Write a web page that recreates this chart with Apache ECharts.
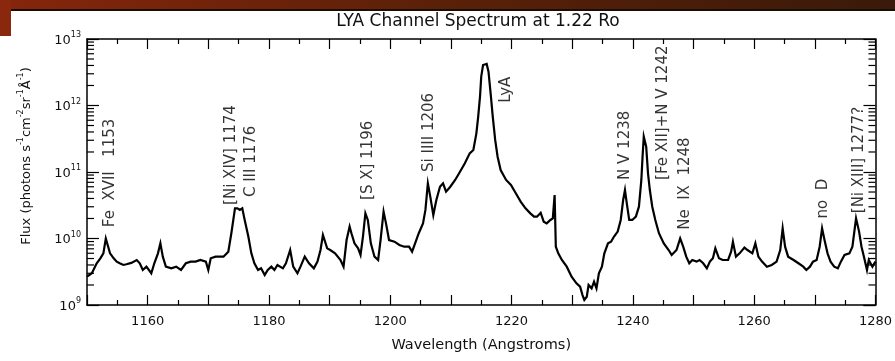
<!DOCTYPE html>
<html><head><meta charset="utf-8">
<script src="https://cdn.jsdelivr.net/npm/echarts@6/dist/echarts.min.js"></script>
<style>html,body{margin:0;padding:0;background:#fff}#c{width:895px;height:361px}</style>
</head><body><div id="c"></div>
<script>
// Wavelength (Angstroms) of each sample
const wavelength = [
1150.0,1150.8,1151.6,1152.2,1152.7,1153.1,1153.4,1153.8,1154.4,1154.9,1155.4,1156.0,1156.5,1157.3,1158.2,1158.7,1159.2,1159.8,
1160.6,1161.1,1161.7,1162.1,1162.5,1163.0,1163.9,1164.7,1165.5,1166.3,1167.1,1167.9,1168.7,1169.6,1170.0,1170.4,1171.2,
1172.5,1173.3,1173.8,1174.4,1174.8,1175.2,1175.6,1176.0,1176.6,1177.1,1177.6,1178.2,1178.7,1179.3,1179.8,
1180.4,1180.9,1181.4,1182.3,1182.8,1183.5,1184.0,1184.7,1185.2,1185.9,1186.6,1187.4,1188.0,1188.5,1188.9,1189.6,
1190.1,1190.9,1191.8,1192.3,1192.8,1193.3,1193.6,1194.1,1194.7,1195.1,1195.5,1195.9,1196.3,1196.8,1197.4,1198.0,1198.4,1198.9,1199.3,1199.8,
1200.7,1201.5,1202.3,1203.1,1203.6,1204.2,1204.7,1205.4,1205.8,1206.2,1206.6,1207.1,1207.6,1208.2,1208.7,1209.2,1209.9,
1210.7,1211.5,1212.3,1213.1,1213.7,1214.2,1214.5,1214.8,1215.0,1215.3,1215.5,1215.9,1216.2,1216.6,1216.9,1217.3,1217.7,1218.2,1219.1,1219.9,
1220.7,1221.5,1222.3,1223.1,1223.7,1224.2,1224.8,1225.3,1225.8,1226.4,1226.8,1227.1,1227.3,1227.7,1228.3,1229.1,1229.9,
1230.7,1231.3,1231.7,1232.0,1232.4,1232.7,1233.2,1233.6,1234.0,1234.4,1234.9,1235.3,1235.9,1236.4,1236.9,1237.5,1238.0,1238.4,1238.7,1239.0,1239.4,1239.9,
1240.5,1241.0,1241.4,1241.6,1241.8,1242.2,1242.5,1242.8,1243.2,1243.7,1244.3,1245.1,1245.9,1246.4,1247.2,1247.8,1248.3,1248.8,1249.3,1249.8,
1250.5,1251.0,1251.6,1252.2,1252.7,1253.2,1253.6,1254.2,1254.8,1255.7,1256.2,1256.5,1257.0,1257.6,1258.4,1258.9,1259.7,
1260.2,1260.7,1261.3,1262.1,1262.9,1263.7,1264.3,1264.7,1265.1,1265.6,1266.5,1267.3,1268.1,1268.6,1269.2,1269.7,
1270.3,1270.8,1271.2,1271.6,1272.1,1272.6,1273.2,1273.8,1274.3,1274.9,1275.7,1276.2,1276.8,1277.3,1277.7,1278.1,1278.6,1278.9,1279.5,1280.0
];
// Flux (photons s^-1 cm^-2 sr^-1 A^-1)
const flux = [
2.67e9,3.0e9,4.24e9,5.04e9,5.98e9,1.0e10,9.8e9,5.98e9,5.04e9,4.49e9,4.24e9,4.0e9,4.1e9,4.3e9,4.75e9,4.24e9,3.36e9,3.77e9,
3.0e9,4.24e9,5.98e9,8.45e9,5.33e9,3.77e9,3.56e9,3.77e9,3.36e9,4.24e9,4.49e9,4.49e9,4.75e9,4.49e9,3.36e9,5.04e9,5.33e9,
5.33e9,6.34e9,1.2e10,2.84e10,2.84e10,2.69e10,2.84e10,1.9e10,1.07e10,5.98e9,4.24e9,3.36e9,3.56e9,2.82e9,3.36e9,
3.77e9,3.36e9,4.0e9,3.56e9,4.24e9,6.71e9,3.77e9,3.0e9,3.77e9,5.33e9,4.24e9,3.56e9,4.49e9,6.71e9,1.13e10,7.11e9,
6.71e9,5.98e9,4.75e9,3.77e9,9.48e9,1.51e10,1.2e10,8.45e9,7.11e9,5.65e9,1.07e10,2.39e10,1.9e10,8.45e9,5.33e9,4.75e9,9.48e9,2.53e10,1.69e10,9.48e9,
8.95e9,7.98e9,7.53e9,7.53e9,6.34e9,8.95e9,1.2e10,1.69e10,2.69e10,6.76e10,4.26e10,2.25e10,3.79e10,6.01e10,6.76e10,5.06e10,6.01e10,
7.59e10,1.01e11,1.35e11,1.91e11,2.14e11,3.81e11,6.8e11,1.36e12,2.72e12,4.06e12,4.21e12,4.21e12,3.23e12,1.36e12,6.79e11,3.03e11,1.70e11,1.07e11,7.59e10,6.37e10,
4.78e10,3.58e10,2.84e10,2.39e10,2.13e10,2.13e10,2.44e10,1.79e10,1.69e10,1.9e10,2.01e10,4.51e10,7.53e9,5.98e9,4.75e9,3.77e9,2.67e9,
2.12e9,1.89e9,1.41e9,1.19e9,1.33e9,2.0e9,1.78e9,2.24e9,1.78e9,3.0e9,3.77e9,5.98e9,8.45e9,8.95e9,1.07e10,1.27e10,1.9e10,3.79e10,5.36e10,3.38e10,1.9e10,1.9e10,
2.13e10,3.01e10,7.59e10,1.70e11,3.40e11,2.40e11,9.55e10,5.36e10,3.01e10,1.9e10,1.2e10,8.45e9,6.71e9,5.65e9,6.71e9,1.0e10,7.53e9,5.33e9,4.24e9,4.75e9,
4.49e9,4.75e9,4.24e9,3.56e9,4.49e9,5.04e9,7.11e9,5.04e9,4.75e9,4.75e9,6.34e9,8.95e9,5.33e9,5.98e9,7.3e9,6.71e9,5.98e9,
8.45e9,5.33e9,4.49e9,3.77e9,4.0e9,4.49e9,6.71e9,1.42e10,7.53e9,5.33e9,4.75e9,4.24e9,3.77e9,3.36e9,3.77e9,4.49e9,
4.75e9,7.53e9,1.42e10,9.48e9,5.98e9,4.49e9,3.77e9,3.56e9,4.49e9,5.65e9,5.98e9,7.53e9,2.01e10,1.27e10,7.53e9,5.33e9,3.36e9,4.75e9,3.77e9,4.49e9
];
// X tick labels and Y decade exponents
const xTickLabels = [1160,1180,1200,1220,1240,1260,1280];
const yDecadeExponents = [9,10,11,12,13];
// Emission line annotations (text, anchor wavelength, anchor flux)
const lineNames = ['Fe  XVII   1153','[Ni XIV] 1174','C III 1176','[S X] 1196','Si IIII 1206','LyA','N V 1238','[Fe XII]+N V 1242','Ne  IX  1248','no  D','[Ni XIII] 1277?'];
const lineWavelength = [1153.8,1173.8,1177.1,1196.3,1206.4,1219.1,1238.7,1245.0,1248.6,1271.4,1277.3];
const lineFlux = [1.48e10,3.2e10,4.2e10,3.8e10,1.0e11,1.1e12,7.6e10,7.6e10,1.35e10,2.0e10,2.4e10];

const X_MIN = 1150, X_MAX = 1280;
const Y_MIN = Math.pow(10, yDecadeExponents[0]);
const Y_MAX = Math.pow(10, yDecadeExponents[yDecadeExponents.length-1]);

// minor tick values for log axis (2..9 per decade)
const minorTicks = [];
for (let i = 0; i < yDecadeExponents.length - 1; i++) {
  for (let m = 2; m <= 9; m++) minorTicks.push(m * Math.pow(10, yDecadeExponents[i]));
}

const FONT = '"DejaVu Sans", "Liberation Sans", Arial, sans-serif';
const chart = echarts.init(document.getElementById('c'), null, {renderer: 'canvas'});

const xAxisCommon = {
  type: 'value', min: X_MIN, max: X_MAX, interval: 10,
  axisLine: {show: true, onZero: false, lineStyle: {color: '#000', width: 1.5}},
  axisTick: {show: true, inside: true, length: 10, lineStyle: {color: '#000', width: 1.2}},
  minorTick: {show: true, splitNumber: 2, length: 5, lineStyle: {color: '#000', width: 1.2}},
  splitLine: {show: false}, minorSplitLine: {show: false}
};

chart.setOption({
  animation: false,
  backgroundColor: '#fff',
  title: {
    text: 'LYA Channel Spectrum at 1.22 Ro', left: 473, top: 8, textAlign: 'center',
    textStyle: {fontFamily: FONT, fontSize: 17, fontWeight: 'normal', color: '#111'}
  },
  grid: {left: 87, right: 10, top: 39, bottom: 56, containLabel: false},
  xAxis: [
    Object.assign({}, xAxisCommon, {
      position: 'bottom',
      name: 'Wavelength (Angstroms)', nameLocation: 'middle', nameGap: 33,
      nameTextStyle: {fontFamily: FONT, fontSize: 14.5, color: '#111'},
      axisLabel: {
        color: '#111', fontFamily: FONT, fontSize: 13, margin: 10,
        formatter: v => (xTickLabels.indexOf(v) >= 0 ? String(v) : '')
      }
    }),
    Object.assign({}, xAxisCommon, {position: 'top', axisLabel: {show: false}})
  ],
  yAxis: [
    {
      type: 'log', min: Y_MIN, max: Y_MAX, logBase: 10, position: 'left',
      axisLine: {show: true, onZero: false, lineStyle: {color: '#000', width: 1.5}},
      axisTick: {show: true, inside: true, length: 12, lineStyle: {color: '#000', width: 1.2}},
      splitLine: {show: false},
      axisLabel: {
        margin: 6, color: '#111', fontFamily: FONT,
        formatter: v => '{b|10}{e|' + Math.round(Math.log10(v)) + '}',
        rich: {
          b: {fontSize: 13, fontFamily: FONT, color: '#111', lineHeight: 16, verticalAlign: 'bottom'},
          e: {fontSize: 8, fontFamily: FONT, color: '#111', lineHeight: 16, verticalAlign: 'top'}
        }
      }
    },
    {
      type: 'log', min: Y_MIN, max: Y_MAX, logBase: 10, position: 'right',
      axisLine: {show: true, onZero: false, lineStyle: {color: '#000', width: 1.5}},
      axisTick: {show: true, inside: true, length: 12, lineStyle: {color: '#000', width: 1.2}},
      splitLine: {show: false}, axisLabel: {show: false}
    }
  ],
  graphic: [
    {type: 'rect', shape: {x: 0, y: 0, width: 895, height: 9}, silent: true,
     style: {fill: new echarts.graphic.LinearGradient(0, 0, 1, 0, [{offset: 0, color: '#86260c'}, {offset: 0.5, color: '#5a2008'}, {offset: 1, color: '#3a1a0a'}])}},
    {type: 'rect', shape: {x: 11, y: 9, width: 884, height: 2}, silent: true, style: {fill: '#1a0d05'}},
    {type: 'rect', shape: {x: 0, y: 0, width: 11, height: 36}, silent: true, style: {fill: '#8a280d'}},
    {type: 'text', x: 25, y: 156, rotation: Math.PI / 2, silent: true,
     style: {
       text: '{n|Flux (photons s}{s|-1}{n|cm}{s|-2}{n|sr}{s|-1}{n|Å}{s|-1}{n|)}',
       align: 'center', verticalAlign: 'middle',
       rich: {
         n: {fontSize: 13, fontFamily: FONT, fill: '#111', lineHeight: 16, verticalAlign: 'bottom'},
         s: {fontSize: 8, fontFamily: FONT, fill: '#111', lineHeight: 16, verticalAlign: 'top'}
       }
     }}
  ],
  series: [
    {
      type: 'line', xAxisIndex: 0, yAxisIndex: 0, showSymbol: false, symbol: 'none',
      smooth: false, step: false, connectNulls: true,
      lineStyle: {color: '#000', width: 2.2, join: 'miter'}, silent: true,
      data: wavelength.map((w, i) => [w, flux[i]])
    },
    {
      type: 'custom', xAxisIndex: 0, yAxisIndex: 0, silent: true, clip: false,
      data: minorTicks.map(v => [X_MIN, v]),
      renderItem: (params, api) => {
        const v = api.value(1);
        const pL = api.coord([X_MIN, v]);
        const pR = api.coord([X_MAX, v]);
        return {type: 'group', children: [
          {type: 'line', shape: {x1: pL[0], y1: pL[1], x2: pL[0] + 7, y2: pL[1]}, style: {stroke: '#000', lineWidth: 1.2}},
          {type: 'line', shape: {x1: pR[0] - 7, y1: pR[1], x2: pR[0], y2: pR[1]}, style: {stroke: '#000', lineWidth: 1.2}}
        ]};
      }
    },
    {
      type: 'scatter', xAxisIndex: 0, yAxisIndex: 0, silent: true, symbolSize: 0,
      data: lineNames.map((n, i) => ({name: n, value: [lineWavelength[i], lineFlux[i]]})),
      label: {
        show: true, formatter: p => p.name, rotate: 90, position: [0, 0],
        align: 'left', verticalAlign: 'middle',
        fontFamily: FONT, fontSize: 15, color: '#000'
      }
    }
  ]
});
</script></body></html>
